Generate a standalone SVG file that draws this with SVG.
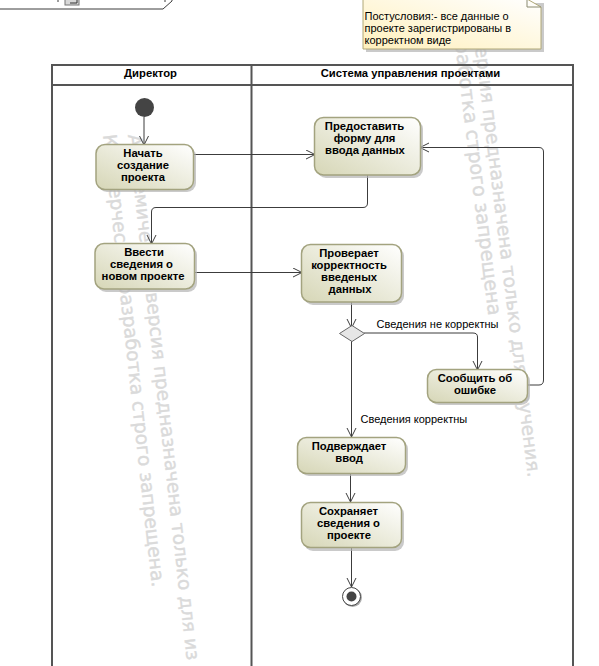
<svg xmlns="http://www.w3.org/2000/svg" width="599" height="666" viewBox="0 0 599 666">
<style>
text{font-family:"Liberation Sans",Arial,sans-serif;font-size:11px;fill:#000}
.b{font-weight:bold;text-anchor:middle;font-size:11.25px}
text.wm{font-family:"DejaVu Sans",sans-serif;font-size:18.7px;fill:#dadada;stroke:#dadada;stroke-width:.4}
.act{fill:url(#g);stroke:#a3a37f;stroke-width:1.5}
.sh{fill:#b4b4b4;opacity:.7}
.c{fill:none;stroke:#3c3c3c;stroke-width:1}
.sw{fill:none;stroke:#555;stroke-width:2}
</style>
<defs>
<linearGradient id="g" x1="0" y1="1" x2="1" y2="0"><stop offset="0" stop-color="#d6d6b6"/><stop offset="1" stop-color="#ffffff"/></linearGradient>
<linearGradient id="n" x1="0" y1="1" x2="1" y2="0"><stop offset="0" stop-color="#fff0bc"/><stop offset="1" stop-color="#ffffff"/></linearGradient>
<marker id="a" markerWidth="10" markerHeight="12" refX="9" refY="5" orient="auto" markerUnits="userSpaceOnUse"><path d="M0 0.5L9 5L0 9.500" fill="none" stroke="#3c3c3c"/></marker>
</defs>
<g id="watermark">
<text class="wm" transform="translate(128 135) rotate(83.6)">Академическая версия предназначена только для из</text>
<text class="wm" transform="translate(103 135) rotate(83.8)">Коммерческая разработка строго запрещена.</text>
<text class="wm" text-anchor="end" transform="translate(528 478) rotate(83)">ерсия предназначена только для изучения.</text>
<text class="wm" style="font-size:19.300px" text-anchor="end" transform="translate(488.500 316) rotate(83)">зработка строго запрещена</text>
</g>
<g id="frame-fragment">
<path class="c" d="M0 9H163L172 1V0"/>
<path class="c" d="M58 0V2M165 0V2"/>
<rect x="65" y="-4" width="14" height="9" fill="#d8d8d8" stroke="#777"/>
<path d="M70 3H77M77 0V3" stroke="#333" fill="none"/>
</g>
<g id="note">
<path d="M366 3H544V52H366Z" fill="#b4b4b4" opacity=".7"/>
<path d="M363 -1H527L541 7V49H363Z" fill="url(#n)" stroke="#b0a878"/>
<path d="M527 -1V7H541" fill="none" stroke="#8a8a70"/>
<text x="364.500" y="20">Постусловия:- все данные о</text>
<text x="364.500" y="32">проекте зарегистрированы в</text>
<text x="364.500" y="44">корректном виде</text>
</g>
<g id="swimlanes">
<path class="sw" d="M52 666V65H573V666"/>
<path class="sw" d="M52 85H573M251.500 65V666"/>
<text class="b" x="150.500" y="77">Директор</text>
<text class="b" x="410.500" y="77">Система управления проектами</text>
</g>
<g id="connectors">
<path class="c" marker-end="url(#a)" d="M144 117V145"/>
<path class="c" marker-end="url(#a)" d="M193 154.500H315"/>
<path class="c" marker-end="url(#a)" d="M367.500 175V203Q367.500 207.500 363 207.500H156Q151.500 207.500 151.500 212V244"/>
<path class="c" marker-end="url(#a)" d="M194 272.500H302"/>
<path class="c" marker-end="url(#a)" d="M351.500 302V328"/>
<path class="c" marker-end="url(#a)" d="M364 333H473Q477.500 333 477.500 337V370"/>
<path class="c" marker-end="url(#a)" d="M351.500 341V437"/>
<path class="c" marker-end="url(#a)" d="M527 385H539Q543.500 385 543.500 380V152Q543.500 147.500 539 147.500H420"/>
<path class="c" marker-end="url(#a)" d="M350.500 474V502"/>
<path class="c" marker-end="url(#a)" d="M351.500 548V587"/>
</g>
<text x="376.500" y="328">Сведения не корректны</text>
<text x="360.500" y="423">Сведения корректны</text>
<g id="start"><circle cx="144.500" cy="107.500" r="9.500" fill="#444"/></g>
<g id="n1"><rect class="sh" x="98" y="147" width="98" height="45" rx="9"/><rect class="act" x="96" y="144.500" width="97.500" height="45" rx="9"/>
<text class="b" x="143" y="157">Начать</text><text class="b" x="143" y="169">создание</text><text class="b" x="143" y="181">проекта</text></g>
<g id="n2"><rect class="sh" x="317" y="120" width="106" height="58" rx="9"/><rect class="act" x="314.500" y="117.500" width="106" height="57.500" rx="9"/>
<text class="b" x="364.500" y="130">Предоставить</text><text class="b" x="364.500" y="142">форму для</text><text class="b" x="365" y="154">ввода данных</text></g>
<g id="n3"><rect class="sh" x="97" y="246" width="100" height="46" rx="9"/><rect class="act" x="95" y="243.500" width="99.500" height="45.500" rx="9"/>
<text class="b" x="144" y="256">Ввести</text><text class="b" x="141.500" y="268">сведения о</text><text class="b" x="143" y="280">новом проекте</text></g>
<g id="n4"><rect class="sh" x="304" y="247" width="100" height="58" rx="9"/><rect class="act" x="301.500" y="244.500" width="100" height="57.500" rx="9"/>
<text class="b" x="349" y="257">Проверает</text><text class="b" x="349" y="269">корректность</text><text class="b" x="349" y="281">введеных</text><text class="b" x="350" y="293">данных</text></g>
<g id="decision"><path d="M339.500 333.500L352 325.500L364.500 333.500L352 341.500Z" fill="#e6e6e6" stroke="#666"/></g>
<g id="n5"><rect class="sh" x="430" y="372" width="100" height="33" rx="9"/><rect class="act" x="427.500" y="369.500" width="100" height="33" rx="9"/>
<text class="b" x="475" y="382">Сообщить об</text><text class="b" x="475" y="394">ошибке</text></g>
<g id="n6"><rect class="sh" x="300" y="440" width="108" height="36" rx="9"/><rect class="act" x="297.500" y="437.500" width="108" height="36" rx="9"/>
<text class="b" x="349" y="450">Подверждает</text><text class="b" x="349" y="462">ввод</text></g>
<g id="n7"><rect class="sh" x="304" y="505" width="100" height="46" rx="9"/><rect class="act" x="301.500" y="502.500" width="100" height="45" rx="9"/>
<text class="b" x="348.500" y="515">Сохраняет</text><text class="b" x="348.500" y="527">сведения о</text><text class="b" x="349" y="539">проекте</text></g>
<g id="end"><circle cx="352.500" cy="597.500" r="9.500" fill="#aaa"/><circle cx="351.500" cy="596.500" r="9" fill="#fff" stroke="#444"/><circle cx="351.500" cy="596.500" r="5" fill="#444"/></g>
</svg>
